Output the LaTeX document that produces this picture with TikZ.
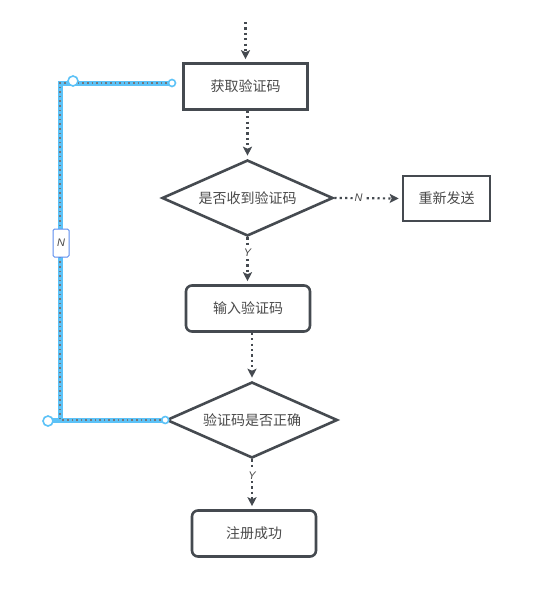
\documentclass[tikz,border=0pt]{standalone}
\usepackage{fontspec}
\setmainfont{Noto Sans CJK SC}
\newfontfamily\labfont{Liberation Sans}
\usetikzlibrary{arrows.meta,shapes.geometric}
\definecolor{edge}{HTML}{454A50}
\definecolor{txt}{HTML}{4A4A4A}
\definecolor{sel}{HTML}{5CC2F7}
\definecolor{selb}{HTML}{5B8DEF}
\tikzset{
  box/.style={draw=edge,line width=2.6pt,minimum width=124pt,minimum height=46pt,inner sep=0pt,text=txt,font=\fontsize{14}{14}\selectfont},
  rbox/.style={box,rounded corners=6pt},
  dia/.style={draw=edge,line width=2.6pt,diamond,aspect=2.25,minimum width=171pt,minimum height=76pt,inner sep=0pt,text=txt,font=\fontsize{14}{14}\selectfont},
  conn/.style={draw=edge,line width=2.2pt,dash pattern=on 2.2pt off 3.2pt,shorten >=3pt,-{Stealth[length=9pt,width=9pt,inset=2pt,fill=edge]}},
  lab/.style={fill=white,inner sep=1.5pt,text=txt,font=\labfont\fontsize{11}{11}\selectfont\itshape},
  handle/.style={circle,draw=sel,line width=1.6pt,fill=white,inner sep=0pt,minimum size=#1},
}
\begin{document}
\begin{tikzpicture}[x=1pt,y=-1pt]
\useasboundingbox (0,0) rectangle (536,590);
\fill[white] (0,0) rectangle (536,590);
\coordinate (start) at (245.5,22);
\node[box] (b1) at (245.5,86.5) {获取验证码};
\node[dia] (d1) at (247.5,198) {是否收到验证码};
\node[box,minimum width=87pt,minimum height=45pt] (re) at (446.5,198.5) {重新发送};
\node[rbox] (b2) at (248,308.5) {输入验证码};
\node[dia] (d2) at (252,420) {验证码是否正确};
\node[rbox] (b3) at (254,533.5) {注册成功};
% selected (blue) connector
\coordinate (c1) at (60,420);
\coordinate (c2) at (60,83);
\coordinate (c3) at (172,83);
\draw[sel,line width=5pt,line join=miter] (d2.west) -- (c1) -- (c2) -- (c3);
\draw[sel,line width=5pt] (48,420) -- (c1);
\draw[edge!75,line width=1.6pt,dash pattern=on 1.6pt off 3pt] (d2.west) -- (c1) -- (c2) -- (c3);
\node[draw=selb,fill=white,line width=1pt,rounded corners=1.5pt,minimum width=16pt,minimum height=28pt,inner sep=0pt,font=\labfont\fontsize{11}{11}\selectfont\itshape,text=txt] (nl) at (61,243) {N};
\node[handle=10pt] (h1) at (73,81) {};
\node[handle=7pt] (h2) at (c3) {};
\node[handle=10pt] (h3) at (48,421) {};
\node[handle=7pt] (h4) at (d2.west) {};
% connectors
\draw[conn] (start) -- (b1.north);
\draw[conn] (b1.south -| d1.north) -- (d1.north);
\draw[conn] (d1.east) -- node[lab,pos=0.36] {N} (re.west);
\draw[conn] (d1.south) -- node[lab,pos=0.33] {Y} (b2.north -| d1.south);
\draw[conn] (b2.south -| d2.north) -- (d2.north);
\draw[conn] (d2.south) -- node[lab,pos=0.33] {Y} (b3.north -| d2.south);
\end{tikzpicture}
\end{document}
